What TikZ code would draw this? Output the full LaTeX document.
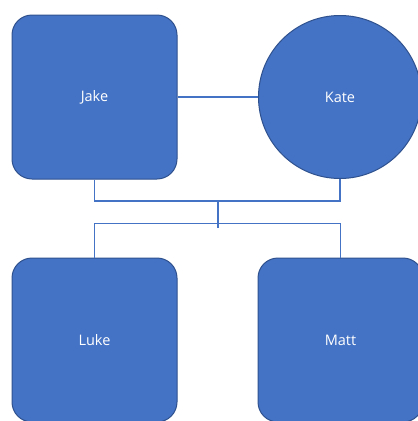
\documentclass[tikz,border=0pt]{standalone}
\usepackage{fontspec}
\setmainfont{Open Sans}
\definecolor{boxfill}{HTML}{4472C4}
\definecolor{boxline}{HTML}{2F528F}
\definecolor{link}{HTML}{4472C4}
\begin{document}
\begin{tikzpicture}[x=1pt,y=-1pt,
  person/.style={draw=boxline,fill=boxfill,line width=1pt,rounded corners=20pt,
    minimum width=165pt,minimum height=164pt,inner sep=0pt,
    text=white,font=\fontsize{14.5}{17}\selectfont},
  personc/.style={draw=boxline,fill=boxfill,line width=1pt,circle,
    minimum size=163pt,inner sep=0pt,text=white,font=\fontsize{14.5}{17}\selectfont},
  conn/.style={draw=link,line width=1.4pt}]
\useasboundingbox (0,0) rectangle (418,421);
\clip (0,0) rectangle (418,421);
\fill[white] (0,0) rectangle (418,421);
\node[person] (jake) at (94.5,97) {Jake};
\node[personc] (kate) at (340,97) {Kate};
\node[person] (luke) at (94.5,340) {Luke};
\node[person] (matt) at (340.5,340) {Matt};
\coordinate (mid1) at (218,201);
\coordinate (mid2) at (218,228);
\draw[conn] (jake.east) -- (kate.west);
\draw[conn] (jake.south) |- (mid1) -| (kate.south);
\draw[conn] (mid1) -- (mid2);
\draw[conn] (luke.north) |- (218,223.5) -| (matt.north);
\end{tikzpicture}
\end{document}
